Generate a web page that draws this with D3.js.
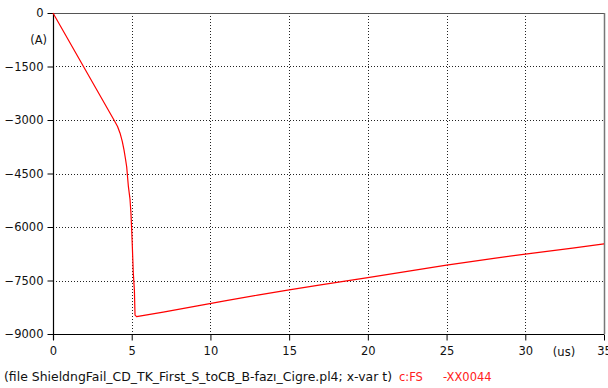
<!DOCTYPE html>
<html>
<head>
<meta charset="utf-8">
<script src="https://cdn.jsdelivr.net/npm/d3@7"></script>
<style>
  html, body { margin: 0; padding: 0; background: #fff; }
  svg { display: block; }
  text { font-family: "DejaVu Sans", Verdana, sans-serif; }
</style>
</head>
<body>
<svg id="chart" width="608" height="388"></svg>
<script>
// Current waveform c:FS -XX0044, time in microseconds, current in amperes
const timeUs = [0, 3.9, 4.1, 4.26, 4.4, 4.51, 4.6, 4.68, 4.79, 4.89, 4.95, 5.0, 5.04, 5.1, 5.17, 5.21, 5.31,
                7, 9, 11, 13, 15, 17, 20, 23, 25, 28, 30, 33, 35];
const currentA = [0, -3020, -3180, -3370, -3600, -3840, -4080, -4310, -4870, -5215, -5600, -6100, -6550, -7290, -7770, -8470, -8515,
                  -8385, -8225, -8065, -7910, -7765, -7625, -7420, -7210, -7070, -6880, -6760, -6590, -6475];

const xTicks = [0, 5, 10, 15, 20, 25, 30, 35];
const yTicks = [0, -1500, -3000, -4500, -6000, -7500, -9000];
const xGrid = [5, 10, 15, 20, 25, 30];
const yGrid = [-1500, -3000, -4500, -6000, -7500];

const svg = d3.select("#chart");
const plotLeft = 53, plotRight = 604, plotTop = 13, plotBottom = 334;

const x = d3.scaleLinear().domain([0, 35]).range([plotLeft, plotRight]);
const y = d3.scaleLinear().domain([-9000, 0]).range([plotBottom, plotTop]);

// dotted grid
const grid = svg.append("g").attr("stroke", "#222").attr("stroke-width", 1)
  .attr("stroke-dasharray", "1,2").attr("shape-rendering", "crispEdges");
grid.selectAll(".gx").data(xGrid).join("line")
  .attr("x1", d => Math.round(x(d)) + 0.5).attr("x2", d => Math.round(x(d)) + 0.5)
  .attr("y1", plotTop).attr("y2", plotBottom);
grid.selectAll(".gy").data(yGrid).join("line")
  .attr("y1", d => Math.round(y(d)) + 0.5).attr("y2", d => Math.round(y(d)) + 0.5)
  .attr("x1", plotLeft).attr("x2", plotRight);

// frame: top and right edges
svg.append("line").attr("x1", plotLeft).attr("x2", plotRight + 0.5).attr("y1", plotTop + 0.5).attr("y2", plotTop + 0.5)
  .attr("stroke", "#555").attr("stroke-width", 1);
svg.append("line").attr("x1", plotRight + 0.5).attr("x2", plotRight + 0.5).attr("y1", plotTop).attr("y2", plotBottom)
  .attr("stroke", "#777").attr("stroke-width", 1.5);

// axes
const yAxis = d3.axisLeft(y).tickValues(yTicks).tickSize(6).tickPadding(4).tickFormat(d3.format("d"));
const gy = svg.append("g").attr("transform", `translate(${plotLeft + 0.5},0)`).call(yAxis);
const xAxis = d3.axisBottom(x).tickValues(xTicks).tickSize(6).tickPadding(6).tickFormat(d3.format("d"));
const gx = svg.append("g").attr("transform", `translate(0,${plotBottom + 0.5})`).call(xAxis);
[gx, gy].forEach(g => {
  g.select(".domain").attr("stroke", "#000").attr("stroke-width", 1.2);
  g.selectAll(".tick line").attr("stroke", "#000");
  g.selectAll(".tick text").attr("fill", "#111").attr("font-size", 11.5)
    .attr("font-family", "'DejaVu Sans', Verdana, sans-serif");
});
gx.select(".domain").attr("d", `M${plotLeft},0H${plotRight}`);
gy.select(".domain").attr("d", `M0,${plotTop}V${plotBottom + 6}`);

// unit labels
svg.append("text").attr("x", 47).attr("y", 44).attr("text-anchor", "end")
  .attr("font-size", 11.5).attr("fill", "#111").text("(A)");
svg.append("text").attr("x", 564).attr("y", 356).attr("text-anchor", "middle")
  .attr("font-size", 11.5).attr("fill", "#111").text("(us)");

// waveform
const line = d3.line().x((d, i) => x(timeUs[i])).y(d => y(d));
svg.append("path").datum(currentA).attr("d", line)
  .attr("fill", "none").attr("stroke", "#ff0000").attr("stroke-width", 1.2)
  .attr("stroke-linejoin", "round");

// caption
svg.append("text").attr("x", 4).attr("y", 381).attr("font-size", 11.5).attr("fill", "#111")
  .attr("textLength", 388).attr("lengthAdjust", "spacingAndGlyphs")
  .text("(file ShieldngFail_CD_TK_First_S_toCB_B-fazı_Cigre.pl4; x-var t)");
svg.append("text").attr("x", 399).attr("y", 381).attr("font-size", 11.5).attr("fill", "#ff2020")
  .text("c:FS");
svg.append("text").attr("x", 443).attr("y", 381).attr("font-size", 11.5).attr("fill", "#ff2020")
  .text("-XX0044");
</script>
</body>
</html>
